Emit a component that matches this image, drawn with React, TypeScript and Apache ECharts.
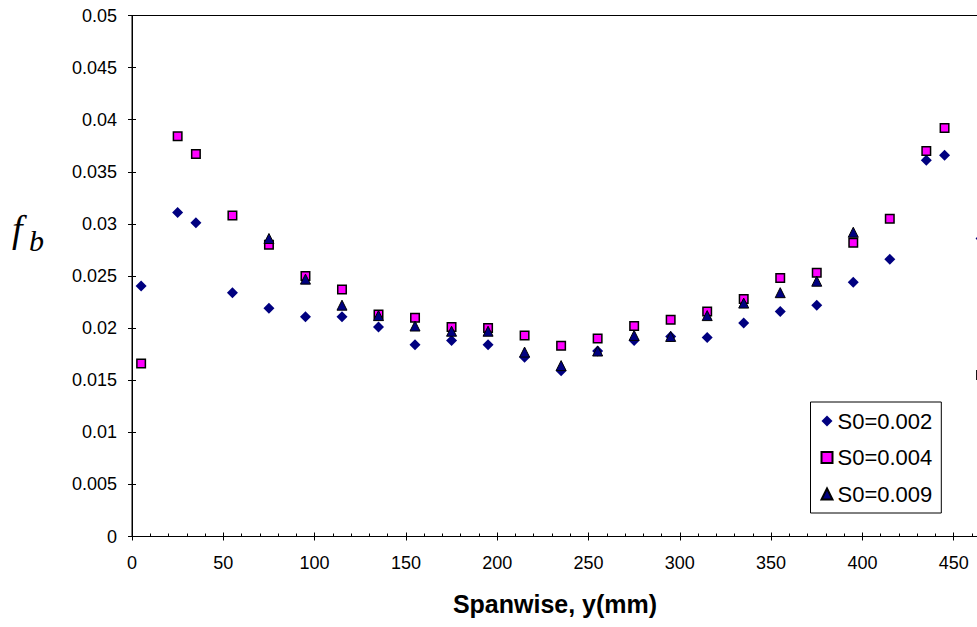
import React, { useEffect, useRef } from "react";
import * as echarts from "echarts";

const xAll = [5, 25, 35, 55, 75, 95, 115, 135, 155, 175, 195, 215, 235, 255, 275, 295, 315, 335, 355, 375, 395, 415, 435, 445, 465];
const yS002 = [0.02405, 0.0311, 0.0301, 0.0234, 0.0219, 0.0211, 0.0211, 0.0201, 0.0184, 0.0188, 0.0184, 0.0172, 0.0159, 0.0178, 0.0188, 0.0192, 0.0191, 0.0205, 0.0216, 0.0222, 0.0244, 0.0266, 0.0361, 0.0366, 0.0286];
const yS004 = [0.0166, 0.0384, 0.0367, 0.0308, 0.028, 0.025, 0.0237, 0.0213, 0.021, 0.0201, 0.02, 0.0193, 0.0183, 0.019, 0.0202, 0.0208, 0.0216, 0.0228, 0.0248, 0.0253, 0.0282, 0.0305, 0.037, 0.0392, 0.0155];
const xS009 = [75, 95, 115, 135, 155, 175, 195, 215, 235, 255, 275, 295, 315, 335, 355, 375, 395];
const yS009 = [0.0286, 0.0247, 0.0222, 0.0212, 0.0202, 0.0197, 0.0197, 0.0177, 0.0164, 0.0178, 0.0193, 0.0192, 0.0212, 0.0224, 0.0234, 0.0245, 0.0292];
const seriesNames = ["S0=0.002", "S0=0.004", "S0=0.009"];
const xTitle = "Spanwise, y(mm)";

const pair = (xs: number[], ys: number[]) => xs.map((x, i) => [x, ys[i]]);

export default function App() {
  const ref = useRef<HTMLDivElement>(null);
  useEffect(() => {
    if (!ref.current) return;
    const chart = echarts.init(ref.current, undefined, { renderer: "svg" });
    const font = "'Liberation Sans', Arial, sans-serif";
    const serif = "'Liberation Serif', 'Times New Roman', serif";
    const xBase = {
      type: "value",
      min: 0,
      max: 500,
      interval: 50,
      position: "bottom",
      splitLine: { show: false },
    };
    const yBase = {
      type: "value",
      min: 0,
      max: 0.05,
      interval: 0.005,
      position: "left",
      splitLine: { show: false },
    };
    chart.setOption({
      animation: false,
      backgroundColor: "#ffffff",
      grid: {
        left: 132,
        top: 15.5,
        width: 913,
        height: 521,
        show: true,
        borderColor: "#000",
        borderWidth: 1,
        backgroundColor: "transparent",
      },
      xAxis: [
        {
          ...xBase,
          axisLine: { show: true, onZero: false, lineStyle: { color: "#000", width: 1 } },
          axisTick: { show: true, inside: false, length: 4, lineStyle: { color: "#000" } },
          axisLabel: { show: true, showMaxLabel: false, color: "#000", fontSize: 18, fontFamily: font, margin: 17 },
        },
        {
          ...xBase,
          axisLine: { show: false, onZero: false },
          axisTick: { show: true, inside: true, length: 4, lineStyle: { color: "#000" } },
          minorTick: { show: true, splitNumber: 5, length: 3, lineStyle: { color: "#000" } },
          axisLabel: { show: false },
        },
      ],
      yAxis: [
        {
          ...yBase,
          axisLine: { show: true, onZero: false, lineStyle: { color: "#000", width: 1 } },
          axisTick: { show: true, inside: false, length: 4, lineStyle: { color: "#000" } },
          axisLabel: { show: true, color: "#000", fontSize: 18, fontFamily: font, margin: 15 },
        },
        {
          ...yBase,
          axisLine: { show: false, onZero: false },
          axisTick: { show: true, inside: true, length: 4, lineStyle: { color: "#000" } },
          axisLabel: { show: false },
        },
      ],
      legend: {
        show: true,
        orient: "vertical",
        left: 810.5,
        top: 402,
        padding: [8, 9, 8, 10],
        itemGap: 14.5,
        itemWidth: 11,
        itemHeight: 11,
        borderColor: "#000",
        borderWidth: 1,
        backgroundColor: "#fff",
        textStyle: { color: "#000", fontSize: 22, fontFamily: font },
        data: [
          { name: seriesNames[0], icon: "diamond" },
          { name: seriesNames[1], icon: "rect" },
          { name: seriesNames[2], icon: "triangle" },
        ],
      },
      graphic: [
        {
          type: "text",
          x: 555,
          y: 604,
          style: {
            text: xTitle,
            align: "center",
            verticalAlign: "middle",
            font: `bold 25px ${font}`,
            fill: "#000",
          },
        },
        {
          type: "text",
          x: 12,
          y: 248,
          style: {
            text: "f",
            align: "left",
            verticalAlign: "bottom",
            font: `italic 38px ${serif}`,
            fill: "#000",
          },
        },
        {
          type: "text",
          x: 29,
          y: 255,
          style: {
            text: "b",
            align: "left",
            verticalAlign: "bottom",
            font: `italic 30px ${serif}`,
            fill: "#000",
          },
        },
      ],
      series: [
        {
          name: seriesNames[0],
          type: "scatter",
          xAxisIndex: 0,
          yAxisIndex: 0,
          symbol: "diamond",
          symbolSize: 11,
          clip: false,
          itemStyle: { color: "#000080", opacity: 1 },
          data: pair(xAll, yS002),
        },
        {
          name: seriesNames[1],
          type: "scatter",
          xAxisIndex: 0,
          yAxisIndex: 0,
          symbol: "rect",
          symbolSize: 8.5,
          clip: false,
          itemStyle: { color: "#ff00ff", borderColor: "#000", borderWidth: 1.5, opacity: 1 },
          data: pair(xAll, yS004),
        },
        {
          name: seriesNames[2],
          type: "scatter",
          xAxisIndex: 0,
          yAxisIndex: 0,
          symbol: "triangle",
          symbolSize: 10,
          clip: false,
          itemStyle: { color: "#000080", borderColor: "#000", borderWidth: 1, opacity: 1 },
          data: pair(xS009, yS009),
        },
      ],
    });
    return () => chart.dispose();
  }, []);
  return (
    <div
      style={{
        position: "fixed",
        left: 0,
        top: 0,
        width: 977,
        height: 627,
        overflow: "hidden",
        background: "#fff",
      }}
    >
      <div ref={ref} style={{ width: 1100, height: 627 }} />
    </div>
  );
}
